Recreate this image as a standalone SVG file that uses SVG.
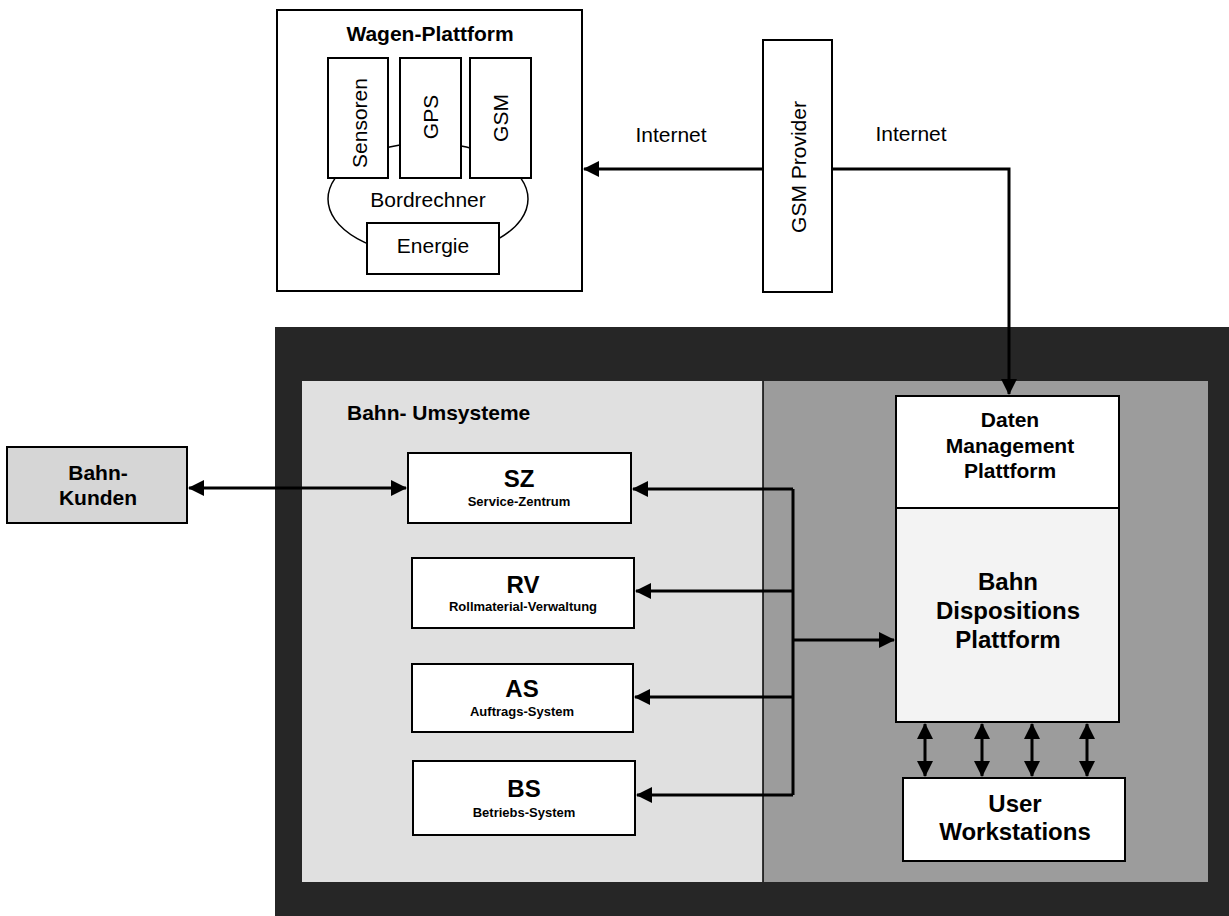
<svg xmlns="http://www.w3.org/2000/svg" width="1229" height="916" viewBox="0 0 1229 916">
<style>
text{font-family:"Liberation Sans",Arial,sans-serif;fill:#000}
.r{font-size:21px}
.b{font-size:21px;font-weight:bold}
.bl{font-size:24px;font-weight:bold}
.t{font-size:24px;font-weight:bold}
.s{font-size:13px;font-weight:bold}
.box{fill:#fff;stroke:#000;stroke-width:2}
.ln{fill:none;stroke:#000;stroke-width:3}
</style>
<defs>
<marker id="ah" viewBox="0 0 16 16" refX="15" refY="8" markerWidth="16" markerHeight="16" markerUnits="userSpaceOnUse" orient="auto-start-reverse">
<path d="M0,0 L16,8 L0,16 z" fill="#000"/>
</marker>
</defs>
<g id="frame">
<rect x="275" y="327" width="954" height="589" fill="#262626"/>
<rect x="302" y="381" width="461" height="501" fill="#e0e0e0"/>
<rect x="763" y="381" width="445" height="501" fill="#9c9c9c"/>
<line x1="763" y1="381" x2="763" y2="882" stroke="#000" stroke-width="1.5"/>
<text class="b" x="347" y="420">Bahn- Umsysteme</text>
</g>
<g id="wagen">
<rect class="box" x="277" y="10" width="305" height="281"/>
<text class="b" x="430" y="41" text-anchor="middle">Wagen-Plattform</text>
<ellipse cx="428" cy="199" rx="100" ry="56" fill="#fff" stroke="#000" stroke-width="1.5"/>
<text class="r" x="428" y="207" text-anchor="middle">Bordrechner</text>
<rect class="box" x="328" y="58" width="60" height="120"/>
<text class="r" transform="translate(367,123) rotate(-90)" text-anchor="middle">Sensoren</text>
<rect class="box" x="400" y="58" width="61" height="120"/>
<text class="r" transform="translate(438,117) rotate(-90)" text-anchor="middle">GPS</text>
<rect class="box" x="470" y="58" width="61" height="120"/>
<text class="r" transform="translate(508,118) rotate(-90)" text-anchor="middle">GSM</text>
<rect class="box" x="367" y="223" width="132" height="51"/>
<text class="r" x="433" y="253" text-anchor="middle">Energie</text>
</g>
<g id="gsm">
<rect class="box" x="763" y="40" width="69" height="252"/>
<text class="r" transform="translate(806,167) rotate(-90)" text-anchor="middle">GSM Provider</text>
</g>
<g id="labels">
<text class="r" x="671" y="142" text-anchor="middle">Internet</text>
<text class="r" x="911" y="141" text-anchor="middle">Internet</text>
</g>
<g id="kunden">
<rect x="7" y="447" width="180" height="76" fill="#d6d6d6" stroke="#000" stroke-width="2"/>
<text class="b" x="98" y="480" text-anchor="middle">Bahn-</text>
<text class="b" x="98" y="505" text-anchor="middle">Kunden</text>
</g>
<g id="sz">
<rect class="box" x="408" y="453" width="223" height="70"/>
<text class="t" x="519" y="487" text-anchor="middle">SZ</text>
<text class="s" x="519" y="506" text-anchor="middle">Service-Zentrum</text>
</g>
<g id="rv">
<rect class="box" x="412" y="558" width="222" height="70"/>
<text class="t" x="523" y="593" text-anchor="middle">RV</text>
<text class="s" x="523" y="611" text-anchor="middle">Rollmaterial-Verwaltung</text>
</g>
<g id="as">
<rect class="box" x="412" y="664" width="221" height="68"/>
<text class="t" x="522" y="697" text-anchor="middle">AS</text>
<text class="s" x="522" y="716" text-anchor="middle">Auftrags-System</text>
</g>
<g id="bs">
<rect class="box" x="413" y="761" width="222" height="74"/>
<text class="t" x="524" y="797" text-anchor="middle">BS</text>
<text class="s" x="524" y="817" text-anchor="middle">Betriebs-System</text>
</g>
<g id="daten">
<rect x="896" y="508" width="223" height="214" fill="#f3f3f3" stroke="#000" stroke-width="2"/>
<rect class="box" x="896" y="396" width="223" height="112"/>
<text class="b" x="1010" y="427" text-anchor="middle">Daten</text>
<text class="b" x="1010" y="453" text-anchor="middle">Management</text>
<text class="b" x="1010" y="478" text-anchor="middle">Plattform</text>
<text class="bl" x="1008" y="590" text-anchor="middle">Bahn</text>
<text class="bl" x="1008" y="619" text-anchor="middle">Dispositions</text>
<text class="bl" x="1008" y="648" text-anchor="middle">Plattform</text>
</g>
<g id="user">
<rect class="box" x="903" y="778" width="222" height="83"/>
<text class="bl" x="1015" y="812" text-anchor="middle">User</text>
<text class="bl" x="1015" y="840" text-anchor="middle">Workstations</text>
</g>
<g id="connectors">
<path class="ln" d="M763,169 H584" marker-end="url(#ah)"/>
<path class="ln" d="M832,169 H1009 V394" marker-end="url(#ah)"/>
<path class="ln" d="M189,488 H406" marker-start="url(#ah)" marker-end="url(#ah)"/>
<path class="ln" d="M793,489 H633" marker-end="url(#ah)"/>
<path class="ln" d="M793,489 V795"/>
<path class="ln" d="M793,591 H636" marker-end="url(#ah)"/>
<path class="ln" d="M793,697 H635" marker-end="url(#ah)"/>
<path class="ln" d="M793,795 H637" marker-end="url(#ah)"/>
<path class="ln" d="M793,640 H894" marker-end="url(#ah)"/>
<path class="ln" d="M925,724 V776" marker-start="url(#ah)" marker-end="url(#ah)"/>
<path class="ln" d="M982,724 V776" marker-start="url(#ah)" marker-end="url(#ah)"/>
<path class="ln" d="M1032,724 V776" marker-start="url(#ah)" marker-end="url(#ah)"/>
<path class="ln" d="M1087,724 V776" marker-start="url(#ah)" marker-end="url(#ah)"/>
</g>
</svg>
